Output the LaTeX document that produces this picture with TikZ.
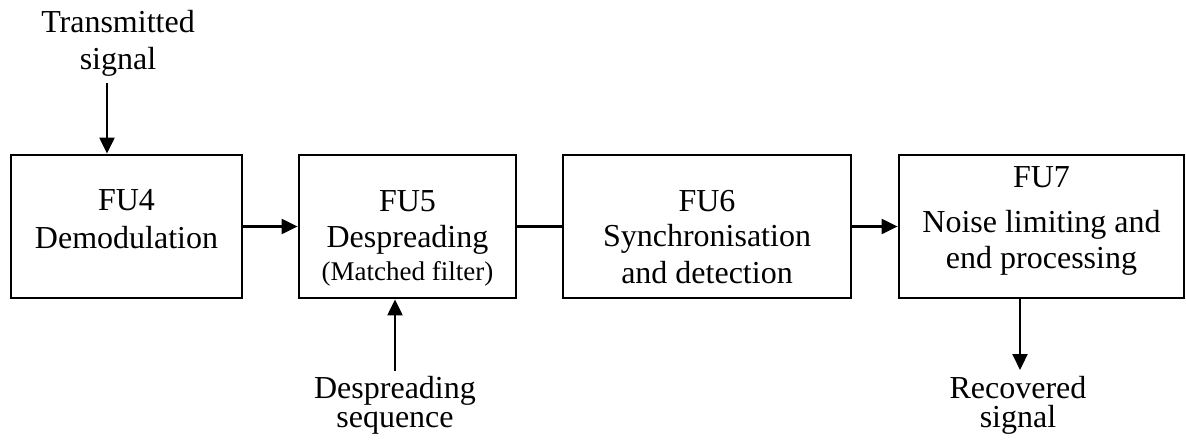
\documentclass[tikz,border=0pt]{standalone}
\usepackage{fontspec}
\setmainfont{Liberation Serif}
\usetikzlibrary{arrows.meta}
\tikzset{
  box/.style={draw, line width=2.8pt, rectangle, inner sep=0pt, minimum height=143pt},
  txt/.style={anchor=base, inner sep=0pt, font=\fontsize{32}{37}\selectfont},
  small/.style={anchor=base, inner sep=0pt, font=\fontsize{27}{30}\selectfont},
  arr/.style={line width=2.2pt, -{Triangle[length=16pt,width=15pt]}},
  link/.style={line width=2.2pt}
}
\begin{document}
\begin{tikzpicture}[x=1pt, y=-1pt]
  \useasboundingbox (0,0) rectangle (1186,441);

  % processing blocks
  \node[box, minimum width=231pt] (fu4) at (126.5,226.5) {};
  \node[box, minimum width=217pt] (fu5) at (407.5,226.5) {};
  \node[box, minimum width=288pt] (fu6) at (707,226.5) {};
  \node[box, minimum width=285pt] (fu7) at (1041.5,226.5) {};

  % block captions
  \node[txt] (fu4a) at (126.5,210) {FU4};
  \node[txt] (fu4b) at (126.5,248) {Demodulation};

  \node[txt] (fu5a) at (407.5,211) {FU5};
  \node[txt] (fu5b) at (407.5,247) {Despreading};
  \node[small] (fu5c) at (407.5,280) {(Matched filter)};

  \node[txt] (fu6a) at (707,211) {FU6};
  \node[txt] (fu6b) at (707,246.5) {Synchronisation};
  \node[txt] (fu6c) at (707,283) {and detection};

  \node[txt] (fu7a) at (1041.5,187) {FU7};
  \node[txt] (fu7b) at (1041.5,232.5) {Noise limiting and};
  \node[txt] (fu7c) at (1041.5,268) {end processing};

  % external inputs and output
  \node[txt] (tx1) at (118,33) {Transmitted};
  \node[txt] (tx2) at (118,70) {signal};
  \coordinate (txend) at (107,83);

  \node[txt] (ds1) at (395,398) {Despreading};
  \node[txt] (ds2) at (395,427) {sequence};
  \coordinate (dsend) at (395,371);

  \node[txt] (rc1) at (1018,398) {Recovered};
  \node[txt] (rc2) at (1018,427) {signal};
  \coordinate (rcend) at (1020,370);

  % connectors
  \draw[arr] (txend) -- (txend |- fu4.north);
  \draw[arr] (fu4.east) -- (fu5.west);
  \draw[link] (fu5.east) -- (fu6.west);
  \draw[arr] (fu6.east) -- (fu7.west);
  \draw[arr] (dsend) -- (dsend |- fu5.south);
  \draw[arr] (rcend |- fu7.south) -- (rcend);
\end{tikzpicture}
\end{document}
